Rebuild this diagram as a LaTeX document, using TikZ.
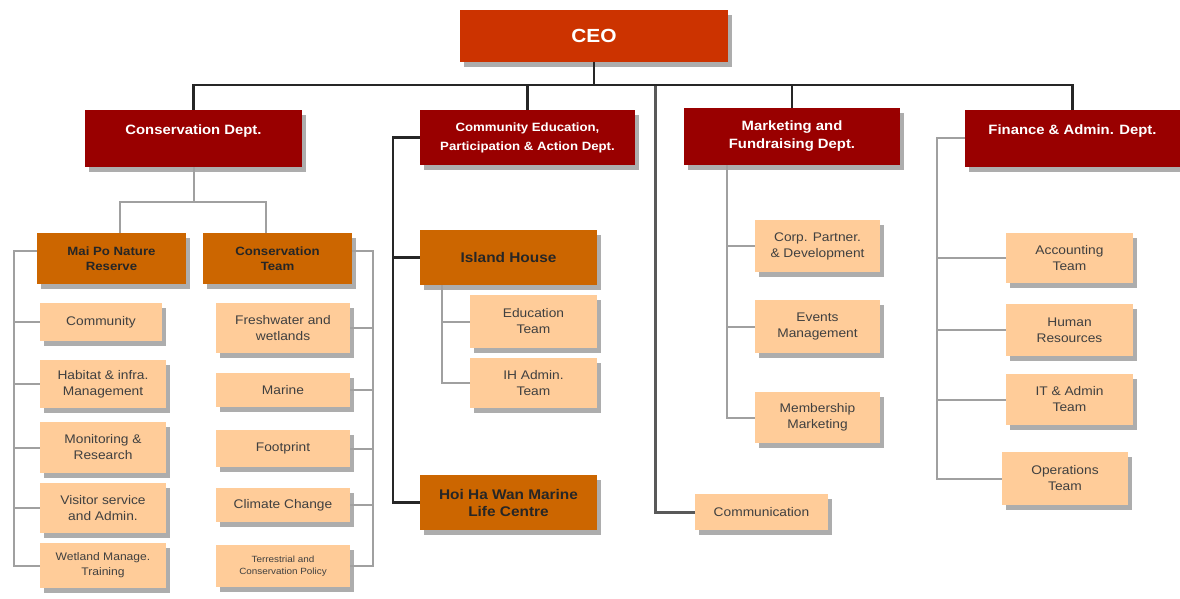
\documentclass[tikz,border=0pt]{standalone}
\usepackage{fontspec}
\setmainfont[FakeStretch=1.1]{Liberation Sans}
\usetikzlibrary{shadows}
\definecolor{ceored}{HTML}{CC3300}
\definecolor{deptred}{HTML}{990000}
\definecolor{unitorange}{HTML}{CC6600}
\definecolor{teamtan}{HTML}{FFCC99}
\definecolor{linegray}{HTML}{A0A0A0}
\begin{document}
\begin{tikzpicture}[x=1pt,y=-1pt]
        \tikzset{shadowed/.style = {drop shadow={shadow xshift=4pt,shadow yshift=-5pt,fill=black!32,opacity=1}}}
        \tikzset{ceobox/.style = {shape=rectangle,shadowed,fill=ceored,text=white,inner sep=0pt,
                 font=\fontsize{19}{21}\selectfont\bfseries}}
        \tikzset{deptbox/.style = {shape=rectangle,shadowed,fill=deptred,text=white,align=center,inner sep=0pt,
                 font=\fontsize{13.5}{18}\selectfont\bfseries}}
        \tikzset{unitbox/.style = {shape=rectangle,shadowed,fill=unitorange,text=black!85,align=center,inner sep=0pt,
                 font=\fontsize{12}{15}\selectfont\bfseries}}
        \tikzset{teambox/.style = {shape=rectangle,shadowed,fill=teamtan,text=black!75,align=center,inner sep=0pt,
                 minimum width=126,minimum height=50,font=\fontsize{12.5}{16}\selectfont}}
        \tikzset{bus/.style = {draw=black!85,line width=2.5pt}}
        \tikzset{sub/.style = {draw=linegray,line width=2pt}}
        \path[use as bounding box] (0,0) rectangle (1180,599);
        % top level
        \node[ceobox,minimum width=268,minimum height=52] (ceo) at (594,36) {CEO};
        \node[deptbox,minimum width=217,minimum height=57] (cons) at (193.5,138.5) {Conservation Dept.\\~};
        \node[deptbox,minimum width=215,minimum height=55,font=\fontsize{12}{19}\selectfont\bfseries] (ced) at (527.5,137.5)
             {Community Education,\\Participation \& Action Dept.};
        \node[deptbox,minimum width=216,minimum height=57] (mkt) at (792,136.5) {Marketing and\\Fundraising Dept.};
        \node[deptbox,minimum width=215,minimum height=57] (fin) at (1072.5,138.5) {Finance \& Admin. Dept.\\~};
        \coordinate (top) at (593,85);
        \coordinate (cbus) at (655,86);
        % conservation units
        \node[unitbox,minimum width=149,minimum height=51] (maipo) at (111.5,258.5) {Mai Po Nature\\Reserve};
        \node[unitbox,minimum width=149,minimum height=51] (cteam) at (277.5,258.5) {Conservation\\Team};
        % teams under Mai Po
        \node[teambox,minimum width=122,minimum height=38] (comm) at (101,322) {Community};
        \node[teambox,minimum height=48] (hab) at (103,384) {Habitat \& infra.\\Management};
        \node[teambox,minimum height=51] (mon) at (103,447.5) {Monitoring \&\\Research};
        \node[teambox] (vis) at (103,508) {Visitor service\\and Admin.};
        \node[teambox,minimum height=45,font=\fontsize{11}{15}\selectfont] (wet) at (103,565.5) {Wetland Manage.\\Training};
        % teams under conservation team
        \node[teambox,minimum width=134] (fresh) at (283,328) {Freshwater and\\wetlands};
        \node[teambox,minimum width=134,minimum height=34] (marine) at (283,390) {Marine};
        \node[teambox,minimum width=134,minimum height=37] (foot) at (283,448.5) {Footprint};
        \node[teambox,minimum width=134,minimum height=34] (climate) at (283,505) {Climate Change};
        \node[teambox,minimum width=134,minimum height=42,font=\fontsize{9}{12}\selectfont] (terr) at (283,566)
             {Terrestrial and\\Conservation Policy};
        % community education
        \node[unitbox,minimum width=177,minimum height=55,font=\fontsize{14}{17}\selectfont\bfseries] (island) at (508.5,257.5) {Island House};
        \node[teambox,minimum width=127,minimum height=53] (edu) at (533.5,321.5) {Education\\Team};
        \node[teambox,minimum width=127] (ihadm) at (533.5,383) {IH Admin.\\Team};
        \node[unitbox,minimum width=177,minimum height=55,font=\fontsize{14}{17}\selectfont\bfseries] (hoi) at (508.5,502.5)
             {Hoi Ha Wan Marine\\Life Centre};
        % marketing
        \node[teambox,minimum width=125,minimum height=52] (corp) at (817.5,246) {Corp. Partner.\\\& Development};
        \node[teambox,minimum width=125,minimum height=53] (events) at (817.5,326.5) {Events\\Management};
        \node[teambox,minimum width=125,minimum height=51] (member) at (817.5,417.5) {Membership\\Marketing};
        \node[teambox,minimum width=133,minimum height=36] (commun) at (761.5,512) {Communication};
        % finance
        \node[teambox,minimum width=127] (acc) at (1069.5,258) {Accounting\\Team};
        \node[teambox,minimum width=127,minimum height=52] (hr) at (1069.5,330) {Human\\Resources};
        \node[teambox,minimum width=127,minimum height=51] (it) at (1069.5,399.5) {IT \& Admin\\Team};
        \node[teambox,minimum width=126,minimum height=53] (ops) at (1065,478.5) {Operations\\Team};
        % top connectors
        \draw[bus] (ceo.south) -- (ceo.south |- top);
        \draw[bus] (cons.north) |- (top) -| (fin.north);
        \draw[bus] (ced.north) -- (ced.north |- top);
        \draw[bus] (mkt.north) -- (mkt.north |- top);
        \draw[draw=black!65,line width=3pt] (cbus) |- (commun.west);
        % conservation dept
        \draw[sub] (cons.south) -- ++(0,35) coordinate (cfork);
        \draw[sub] ([xshift=8]maipo.north) |- (cfork) -| ([xshift=-12]cteam.north);
        \draw[sub] ([yshift=8]maipo.west) -- ++(-23,0) coordinate (lb) |- (wet.west);
        \foreach \n in {comm,hab,mon,vis}
            \draw[sub] (lb |- \n.west) -- (\n.west);
        \draw[sub] ([yshift=8]cteam.east) -- ++(21,0) coordinate (rb) |- (terr.east);
        \foreach \n in {fresh,marine,foot,climate}
            \draw[sub] (rb |- \n.east) -- (\n.east);
        % community education dept
        \draw[bus] (ced.west) -- ++(-27,0) coordinate (eb) |- (hoi.west);
        \draw[bus] (eb |- island.west) -- (island.west);
        \draw[sub] ([xshift=-66.5]island.south) coordinate (ib) |- (ihadm.west);
        \draw[sub] (ib |- edu.west) -- (edu.west);
        % marketing dept
        \draw[sub] ([xshift=-65]mkt.south) coordinate (mb) |- (member.west);
        \foreach \n in {corp,events}
            \draw[sub] (mb |- \n.west) -- (\n.west);
        % finance dept
        \draw[sub] (fin.west) -- ++(-28,0) coordinate (fb) |- (ops.west);
        \foreach \n in {acc,hr,it}
            \draw[sub] (fb |- \n.west) -- (\n.west);
\end{tikzpicture}
\end{document}
